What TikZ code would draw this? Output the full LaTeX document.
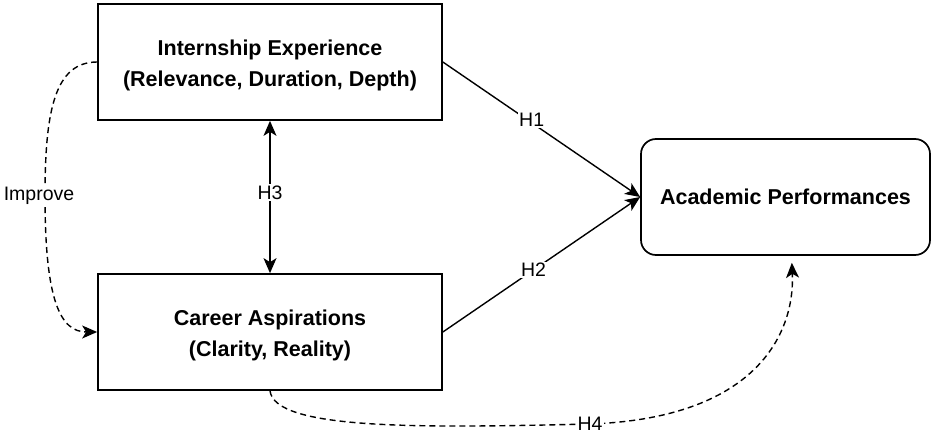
\documentclass[tikz,border=0pt]{standalone}
\usepackage{fontspec}
\setmainfont{Liberation Sans}
\usetikzlibrary{arrows.meta,positioning}
\begin{document}
\begin{tikzpicture}[x=1pt,y=-1pt,
  block/.style={draw,line width=1.7pt,minimum width=344pt,minimum height=116pt,
    align=center,font=\fontsize{21.5}{31}\selectfont\bfseries},
  link/.style={line width=1.4pt,-{Stealth[length=15pt,width=13pt,inset=4pt]}},
  dashlink/.style={link,dash pattern=on 6pt off 4pt},
  lbl/.style={fill=white,inner sep=1.5pt,font=\fontsize{19.5}{22}\selectfont}]
\useasboundingbox (0,0) rectangle (935,436);
% boxes
\node[block] (intern) at (270,62) {\\[-8pt]Internship Experience\\(Relevance, Duration, Depth)};
\node[block] (career) at (270,332) {\\[-8pt]Career Aspirations\\(Clarity, Reality)};
\node[block,minimum width=289pt,rounded corners=15pt] (acad) at (785.5,197) {Academic Performances};
% hypotheses
\draw[link] (intern.east) -- node[lbl,pos=.45,yshift=3pt]{H1} (acad.west);
\draw[link] (career.east) -- node[lbl,pos=.46]{H2} (acad.west);
\draw[link,{Stealth[length=15pt,width=13pt,inset=4pt]}-{Stealth[length=15pt,width=13pt,inset=4pt]}]
  (intern.south) -- node[lbl,pos=.47]{H3} (career.north);
\draw[dashlink] (intern.west) .. controls (55,62) and (45,110) .. (45,196)
  node[lbl,xshift=-6pt]{Improve}
  .. controls (45,300) and (60,332) .. (career.west);
\draw[dashlink,shorten >=7pt] (career.south) .. controls (275,430) and (420,428) .. (590,424)
  node[lbl]{H4}
  .. controls (760,418) and (795,330) .. ([xshift=6pt]acad.south);
\end{tikzpicture}
\end{document}
